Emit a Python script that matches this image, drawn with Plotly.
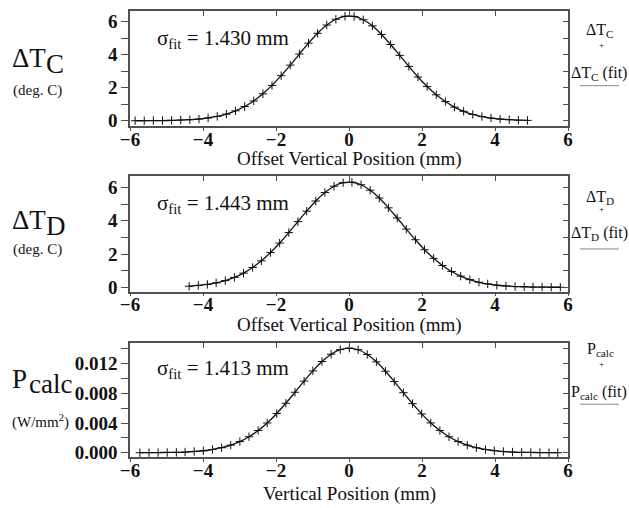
import plotly.graph_objects as go

# ---------------- data ----------------
x_c = [-5.86, -5.61, -5.36, -5.11, -4.86, -4.61, -4.36, -4.11, -3.86, -3.61, -3.36, -3.11,
       -2.86, -2.61, -2.36, -2.11, -1.86, -1.61, -1.36, -1.11, -0.86, -0.61, -0.36, -0.11,
       0.14, 0.39, 0.64, 0.89, 1.14, 1.39, 1.64, 1.89, 2.14, 2.39, 2.64, 2.89, 3.14, 3.39,
       3.64, 3.89, 4.14, 4.39, 4.64, 4.89]
dT_c = [0.00, 0.00, 0.01, 0.01, 0.02, 0.04, 0.06, 0.10, 0.17, 0.26, 0.40, 0.60,
        0.86, 1.20, 1.63, 2.14, 2.73, 3.37, 4.04, 4.70, 5.30, 5.80, 6.15, 6.33,
        6.32, 6.12, 5.75, 5.23, 4.62, 3.96, 3.29, 2.65, 2.07, 1.57, 1.16, 0.82, 0.57, 0.38,
        0.25, 0.16, 0.10, 0.06, 0.03, 0.02]

x_d = [-4.38, -4.13, -3.88, -3.64, -3.39, -3.14, -2.89, -2.64, -2.40, -2.15, -1.90, -1.65,
       -1.40, -1.16, -0.91, -0.66, -0.41, -0.16, 0.08, 0.33, 0.58, 0.83, 1.08, 1.32,
       1.57, 1.82, 2.07, 2.32, 2.56, 2.81, 3.06, 3.31, 3.56, 3.80, 4.05, 4.30, 4.55, 4.80,
       5.04, 5.29, 5.54, 5.79]
dT_d = [0.06, 0.11, 0.17, 0.26, 0.40, 0.59, 0.85, 1.19, 1.59, 2.09, 2.66, 3.29,
        3.95, 4.58, 5.19, 5.70, 6.08, 6.29, 6.32, 6.17, 5.84, 5.37, 4.78, 4.17,
        3.50, 2.86, 2.26, 1.74, 1.31, 0.95, 0.67, 0.46, 0.30, 0.20, 0.12, 0.08, 0.04, 0.03,
        0.01, 0.01, 0.00, 0.00]

x_p = [-5.73, -5.48, -5.23, -4.98, -4.73, -4.49, -4.24, -3.99, -3.74, -3.49, -3.24, -2.99,
       -2.74, -2.49, -2.24, -1.98, -1.73, -1.48, -1.23, -0.99, -0.74, -0.49, -0.24, 0.01,
       0.25, 0.50, 0.75, 1.00, 1.24, 1.49, 1.74, 1.99, 2.24, 2.49, 2.74, 2.99, 3.24, 3.49,
       3.74, 3.98, 4.23, 4.48, 4.73, 4.98, 5.23, 5.48, 5.72]
p_calc = [0.00000, 0.00001, 0.00002, 0.00003, 0.00005, 0.00009, 0.00016, 0.00026, 0.00043,
          0.00067, 0.00102, 0.00150, 0.00215, 0.00299, 0.00401, 0.00528, 0.00666, 0.00815,
          0.00965, 0.01103, 0.01229, 0.01328, 0.01390, 0.01410, 0.01388, 0.01324, 0.01225,
          0.01098, 0.00959, 0.00809, 0.00661, 0.00523, 0.00401, 0.00299, 0.00215, 0.00150,
          0.00102, 0.00067, 0.00043, 0.00027, 0.00016, 0.00009, 0.00005, 0.00003, 0.00002,
          0.00001, 0.00000]

sigma_labels = ["1.430", "1.443", "1.413"]
x_titles = ["Offset Vertical Position (mm)", "Offset Vertical Position (mm)", "Vertical Position (mm)"]

# ---------------- layout helpers ----------------
W, H = 629, 508
L, R, T, B = 130, 61, 9, 51
PW, PH = W - L - R, H - T - B
SERIF = "Liberation Serif, Times New Roman, Times, serif"
AX = "#505050"
INK = "#111111"


def px(xv):
    return (xv - L) / PW


def py(yv):
    return (H - B - yv) / PH


domains = [[py(125), py(9)], [py(291), py(175)], [py(457), py(342.7)]]
yranges = [[-0.35, 6.65], [-0.27, 6.68], [-0.00058, 0.01476]]
ydt = [2, 2, 0.004]
ymin = [1, 1, 0.002]
yfmt = ["d", "d", ".3f"]
title_y = [158, 324, 494]

series = [(x_c, dT_c), (x_d, dT_d), (x_p, p_calc)]

fig = go.Figure()
layout = dict(width=W, height=H, margin=dict(l=L, r=R, t=T, b=B),
              paper_bgcolor="white", plot_bgcolor="white", showlegend=False,
              font=dict(family=SERIF, color=INK))

for i, (xs, ys) in enumerate(series):
    n = i + 1
    xa = "x" if n == 1 else f"x{n}"
    ya = "y" if n == 1 else f"y{n}"
    fig.add_trace(go.Scatter(x=xs, y=ys, mode="lines", line=dict(color=INK, width=1.3, shape="spline"),
                             xaxis=xa, yaxis=ya, hoverinfo="skip"))
    fig.add_trace(go.Scatter(x=xs, y=ys, mode="markers",
                             marker=dict(symbol="cross-thin", size=6, line=dict(width=1, color=INK)),
                             xaxis=xa, yaxis=ya, hoverinfo="skip"))
    # overlay axes for inward ticks on top/right
    ox, oy = f"x{n + 3}", f"y{n + 3}"
    fig.add_trace(go.Scatter(x=[None], y=[None], mode="markers", xaxis=ox, yaxis=oy,
                             hoverinfo="skip"))

    key_x = "xaxis" if n == 1 else f"xaxis{n}"
    key_y = "yaxis" if n == 1 else f"yaxis{n}"
    layout[key_x] = dict(domain=[0, 1], anchor=ya, range=[-6, 6], dtick=2, tick0=0,
                         ticks="outside", ticklen=3, tickcolor=AX, showline=True, linecolor=AX,
                         linewidth=1.5, mirror=True, showgrid=False, zeroline=False,
                         ticklabelstandoff=-8,
                         tickfont=dict(family=SERIF, size=19, weight="bold", color=INK))
    layout[key_y] = dict(domain=domains[i], anchor=xa, range=yranges[i], dtick=ydt[i], tick0=0,
                         tickformat=yfmt[i], ticks="outside", ticklen=7, tickcolor=AX,
                         minor=dict(dtick=ymin[i], tick0=0, ticks="outside", ticklen=7, tickcolor=AX),
                         showline=True, linecolor=AX, linewidth=1.5, mirror=True,
                         showgrid=False, zeroline=False,
                         tickfont=dict(family=SERIF, size=19, weight="bold", color=INK))
    layout[f"xaxis{n + 3}"] = dict(overlaying=xa, side="top", anchor=ya, range=[-6, 6], dtick=2,
                                   tick0=0, ticks="inside", ticklen=5, tickcolor=AX,
                                   showticklabels=False, showgrid=False, zeroline=False,
                                   showline=False)
    layout[f"yaxis{n + 3}"] = dict(overlaying=ya, side="right", anchor=xa, range=yranges[i],
                                   dtick=ymin[i], tick0=0, ticks="inside", ticklen=5, tickcolor=AX,
                                   showticklabels=False, showgrid=False, zeroline=False,
                                   showline=False)

fig.update_layout(**layout)

# ---------------- annotations ----------------
ann = []


def add(text, x, y, size, xanchor="left", yanchor="middle"):
    ann.append(dict(text=text, x=px(x), y=py(y), xref="paper", yref="paper", showarrow=False,
                    xanchor=xanchor, yanchor=yanchor,
                    font=dict(family=SERIF, size=size, color=INK)))


# axis titles
for i in range(3):
    add(x_titles[i], 349, title_y[i], 19, xanchor="center")

# sigma_fit labels
for i, yy in enumerate([37, 203, 369]):
    add(f"σ<sub>fit</sub> = {sigma_labels[i]} mm", 155, yy, 21)

# left labels
add("ΔT", 10, 56, 27)
add("C", 44, 62, 27)
add("(deg. C)", 37, 89, 15, xanchor="center")
add("ΔT", 10, 219, 27)
add("D", 44, 225, 27)
add("(deg. C)", 37, 249, 15, xanchor="center")
add("P", 10, 379, 27)
add("calc", 27, 384, 27)
add("(W/mm<sup>2</sup>)", 40, 421, 15, xanchor="center")

# right-hand legends
legend_items = [("ΔT<sub>C</sub>", "ΔT<sub>C</sub> (fit)", 29, 43, 72, 84),
                ("ΔT<sub>D</sub>", "ΔT<sub>D</sub> (fit)", 196, 208, 232, 248),
                ("P<sub>calc</sub>", "P<sub>calc</sub> (fit)", 349, 364, 392, 404)]
shapes = []
for lab, fit, y1, y2, y3, y4 in legend_items:
    add(lab, 600, y1, 16, xanchor="center")
    add("+", 601, y2, 9, xanchor="center")
    add(fit, 599, y3, 16, xanchor="center")
    shapes.append(dict(type="line", xref="paper", yref="paper", x0=px(580), x1=px(619),
                       y0=py(y4), y1=py(y4), line=dict(color="#888888", width=1)))

fig.update_layout(annotations=ann, shapes=shapes)

fig.write_html("out.html", config={"displayModeBar": False})
